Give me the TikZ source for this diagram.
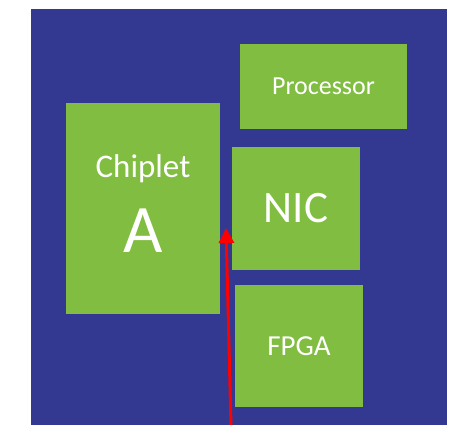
\documentclass[tikz,border=0pt]{standalone}
\usepackage{fontspec}
\setmainfont{Carlito}
\usepackage{xcolor}
\usepackage{tikz}
\usetikzlibrary{arrows.meta}

\definecolor{boardblue}{RGB}{51,56,145}
\definecolor{chipgreen}{RGB}{128,189,65}

\begin{document}
\begin{tikzpicture}[
  x=1pt, y=1pt,
  board/.style    = {fill=boardblue, draw=none},
  chipbox/.style  = {fill=chipgreen, draw=none, inner sep=0pt, text=white},
  chiplbl/.style  = {text=white, inner sep=0pt, anchor=base},
  feed/.style     = {draw=red, line width=3pt,
                     -{Triangle[width=15pt, length=15pt]}},
]
\useasboundingbox (0,0) rectangle (453,425);

%% ── Board ───────────────────────────────────────────────────────────────────
\fill[board] (31,0) rectangle (447,416);

%% ── Chips ───────────────────────────────────────────────────────────────────
\node[chipbox, minimum width=167pt, minimum height=85pt,
      font=\fontsize{26}{30}\selectfont] (proc) at (323.5,338.5) {Processor};

\node[chipbox, minimum width=154pt, minimum height=211pt] (chiplet) at (143,216.5) {};
\node[chiplbl, font=\fontsize{33}{38}\selectfont] (chipname) at (143,247) {Chiplet};
\node[chiplbl, font=\fontsize{68}{74}\selectfont] (chipletter) at (143,172) {A};

\node[chipbox, minimum width=128pt, minimum height=123pt,
      font=\fontsize{45}{50}\selectfont] (nic) at (296,216.5) {NIC};

\node[chipbox, minimum width=128pt, minimum height=122pt,
      font=\fontsize{29}{34}\selectfont] (fpga) at (299,79) {FPGA};

%% ── Feed line ───────────────────────────────────────────────────────────────
\coordinate (feedin)  at (231,0);
\coordinate (feedtip) at (226,197);
\draw[feed] (feedin) -- (feedtip);

\end{tikzpicture}
\end{document}
